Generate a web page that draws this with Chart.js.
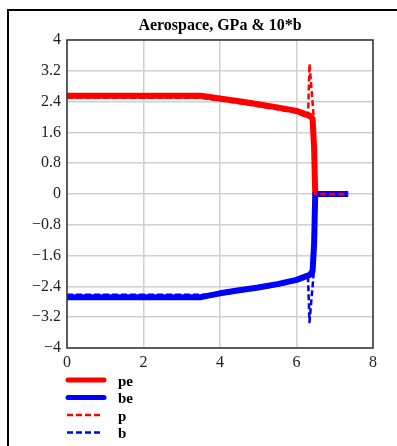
<!DOCTYPE html>
<html>
<head>
<meta charset="utf-8">
<script src="https://cdn.jsdelivr.net/npm/chart.js@4"></script>
<style>
  html, body { margin: 0; padding: 0; background: #fff; }
  #frame { position: absolute; left: 7px; top: 9px; width: 390px; height: 437px;
           border-top: 2px solid #000; border-left: 2px solid #000; }
  #wrap { position: absolute; left: 0; top: 0; width: 397px; height: 446px; }
</style>
</head>
<body>
<div id="frame"></div>
<div id="wrap"><canvas id="chart_canvas" width="397" height="446"></canvas></div>
<script>
// Elastic curves (pe, be) and the raw ones (p, b)
const xe = [0, 3.5, 4.0, 4.5, 5.0, 5.5, 6.0, 6.35, 6.42, 6.46, 6.49, 7.35];
const pe = [2.55, 2.55, 2.48, 2.41, 2.33, 2.25, 2.16, 2.03, 1.96, 1.2, 0, 0];
const be = [-2.68, -2.68, -2.58, -2.5, -2.43, -2.34, -2.23, -2.1, -2.0, -1.3, 0, 0];

const xp = [0, 3.5, 4.0, 4.5, 5.0, 5.5, 6.0, 6.3, 6.34, 6.45, 6.47, 6.49, 7.35];
const p = [2.5, 2.5, 2.43, 2.36, 2.28, 2.2, 2.11, 1.99, 3.38, 2.0, 1.2, 0, 0];
const b = [-2.62, -2.62, -2.6, -2.53, -2.46, -2.38, -2.27, -2.14, -3.33, -2.05, -1.3, 0, 0];

const xTicks = [0, 2, 4, 6, 8];
const yTicks = [-4, -3.2, -2.4, -1.6, -0.8, 0, 0.8, 1.6, 2.4, 3.2, 4];

const chartTitle = 'Aerospace, GPa & 10*b';
const serif = "'Liberation Serif', 'Times New Roman', serif";

function toPoints(xs, ys) {
    return xs.map((x, i) => ({ x: x, y: ys[i] }));
}

// title above the plot, frame round the plot and the stacked legend below
const decorations = {
    id: 'decorations',
    afterDatasetsDraw(chart) {
        const ctx = chart.ctx;
        const area = chart.chartArea;
        ctx.save();
        ctx.strokeStyle = '#333';
        ctx.lineWidth = 1.5;
        ctx.strokeRect(area.left, area.top, area.right - area.left, area.bottom - area.top);

        ctx.fillStyle = '#000';
        ctx.font = 'bold 16px ' + serif;
        ctx.textAlign = 'center';
        ctx.textBaseline = 'middle';
        ctx.fillText(chartTitle, (area.left + area.right) / 2, 26);

        // legend follows the dataset list order
        let y = 380;
        const items = ['pe', 'be', 'p', 'b'].map(l => chart.data.datasets.find(d => d.label === l));
        items.forEach(ds => {
            ctx.beginPath();
            ctx.strokeStyle = ds.borderColor;
            if (ds.borderDash && ds.borderDash.length) {
                ctx.setLineDash([6, 3]);
                ctx.lineWidth = 2.5;
                ctx.lineCap = 'butt';
                ctx.moveTo(67, y);
                ctx.lineTo(101, y);
            } else {
                ctx.setLineDash([]);
                ctx.lineWidth = 5;
                ctx.lineCap = 'round';
                ctx.moveTo(68, y);
                ctx.lineTo(104, y);
            }
            ctx.stroke();
            ctx.setLineDash([]);
            ctx.fillStyle = '#000';
            ctx.font = 'bold 15px ' + serif;
            ctx.textAlign = 'left';
            ctx.fillText(ds.label, 118, y + 2);
            y += 17.5;
        });
        ctx.restore();
    }
};

let context = document.getElementById('chart_canvas').getContext('2d');

let chart = new Chart(context, {
    type: 'line',
    data: {
        datasets: [{
            label: 'pe',
            data: toPoints(xe, pe),
            borderColor: '#ff0000',
            borderWidth: 6,
            order: 4
        }, {
            label: 'be',
            data: toPoints(xe, be),
            borderColor: '#0000ff',
            borderWidth: 6,
            order: 3
        }, {
            label: 'b',
            data: toPoints(xp, b),
            borderColor: '#0000ff',
            borderWidth: 2.5,
            borderDash: [6, 3],
            order: 2
        }, {
            label: 'p',
            data: toPoints(xp, p),
            borderColor: '#ff0000',
            borderWidth: 2.5,
            borderDash: [6, 3],
            order: 1
        }]
    },
    options: {
        responsive: false,
        animation: false,
        layout: { padding: { left: 0, top: 40, right: 24, bottom: 78 } },
        elements: {
            point: { radius: 0 },
            line: { tension: 0, borderJoinStyle: 'round' }
        },
        plugins: {
            legend: { display: false },
            title: { display: false },
            tooltip: { enabled: false }
        },
        scales: {
            x: {
                type: 'linear',
                min: 0,
                max: 8,
                afterBuildTicks: scale => { scale.ticks = xTicks.map(v => ({ value: v })); },
                afterFit: scale => { scale.height = 20; },
                grid: { color: '#d0d0d0', lineWidth: 1.5, drawTicks: false },
                border: { display: false },
                ticks: {
                    color: '#222',
                    padding: 5,
                    maxRotation: 0,
                    font: { family: serif, size: 16 },
                    callback: v => String(v)
                }
            },
            y: {
                type: 'linear',
                min: -4,
                max: 4,
                afterBuildTicks: scale => { scale.ticks = yTicks.map(v => ({ value: v })); },
                afterFit: scale => { scale.width = 67; },
                grid: { color: '#d0d0d0', lineWidth: 1.5, drawTicks: false },
                border: { display: false },
                ticks: {
                    color: '#222',
                    padding: 6,
                    font: { family: serif, size: 16 },
                    callback: v => {
                        const s = String(Math.round(v * 10) / 10);
                        return s.replace('-', '\u2212');
                    }
                }
            }
        }
    },
    plugins: [decorations]
});
</script>
</body>
</html>
